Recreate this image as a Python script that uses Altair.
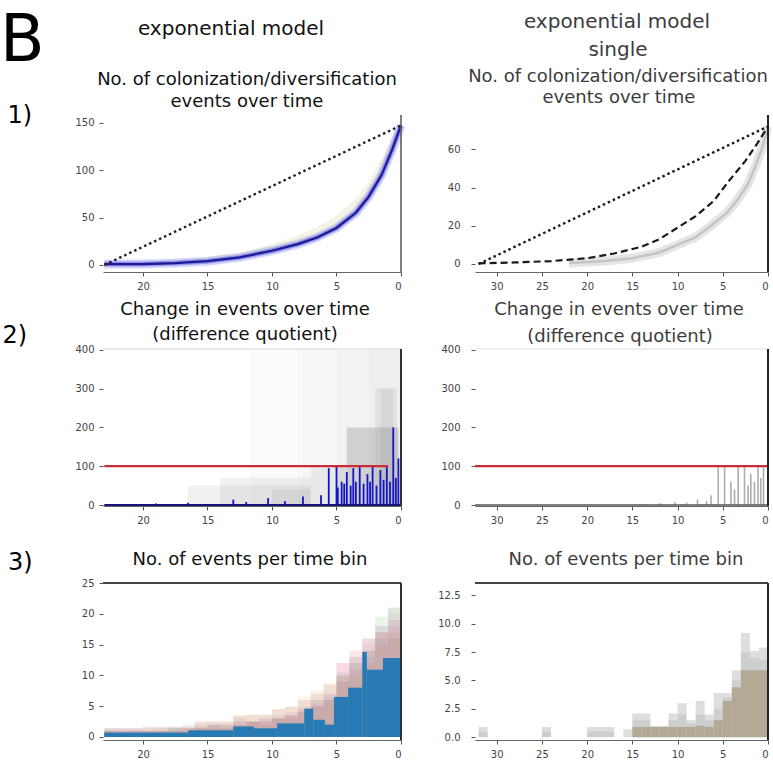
import altair as alt
import pandas as pd

FONT = "DejaVu Sans"

# ---------------- values ----------------
# Row 1, left: cumulative events over time (exponential model)
p1l_lin_time = [23, 0]
p1l_lin_events = [0, 147]
p1l_time = [23, 20, 17.5, 15, 12.5, 10, 8, 6.5, 5, 3.5, 2.5, 1.5, 0.7, 0]
p1l_events = [1, 1, 2, 4, 8, 15, 22, 29, 39, 55, 72, 95, 121, 147]
p1l_spread_low = [1, 1, 2, 4, 8, 15, 22, 29, 39, 55, 72, 95, 121, 147]
p1l_spread_high = [3, 3, 5, 8, 13, 22, 31, 40, 52, 70, 88, 112, 134, 149]

# Row 1, right: single run
p1r_lin_time = [32, 0]
p1r_lin_events = [0, 72]
p1r_exp_time = [32, 28, 24, 20, 17, 14, 12, 10, 8, 6, 4.4, 2.5, 1.2, 0]
p1r_exp_events = [0.3, 0.8, 1.5, 3, 5.5, 9, 13, 19, 25, 33, 43, 54, 63, 72]
p1r_obs_time = [22, 18, 15, 12, 10, 8, 6.3, 4.5, 3.3, 2.2, 1.4, 0.7, 0]
p1r_obs_events = [0.5, 1.5, 3, 6, 10, 14, 20, 27, 34, 42, 51, 60, 72]

# Row 2, left: difference quotient
p2l_spike_time = [19, 16.5, 13, 12, 10.3, 9, 7.6, 6.2, 5.6, 5.0, 4.9, 4.6, 4.4, 4.2, 3.9,
                  3.7, 3.5, 3.2, 2.9, 2.6, 2.4, 2.2, 1.9, 1.6, 1.35, 1.1, 0.85, 0.6, 0.4, 0.2]
p2l_spike_value = [4, 6, 14, 8, 18, 10, 22, 25, 95, 100, 45, 60, 55, 85, 50,
                   95, 60, 100, 55, 80, 60, 100, 50, 90, 65, 100, 60, 200, 70, 120]
p2l_faint_start = [11.7, 8, 5, 2.5]
p2l_faint_end = [0, 0, 0, 0]
p2l_faint_value = [400, 400, 400, 400]
p2l_light_start = [16.5, 14, 10, 7, 5, 2, 1.6]
p2l_light_end = [7, 7, 7, 4.2, 4.2, 0.3, 0.6]
p2l_light_value = [50, 70, 40, 100, 100, 300, 300]
p2l_mid_start = [4.2]
p2l_mid_end = [0.2]
p2l_mid_value = [200]
p2l_base_time = [23, 0]
p2l_threshold_time = [23, 1.0]
threshold = 100

# Row 2, right
p2r_spike_time = [14, 12, 10.3, 9, 7.8, 6.8, 6.3, 5.5, 4.8, 4.1, 3.7, 3.3, 2.6, 2.2, 1.9, 1.5, 1.1, 0.8, 0.5]
p2r_spike_value = [3, 5, 8, 6, 15, 10, 25, 100, 100, 60, 40, 100, 100, 50, 80, 60, 100, 70, 100]
p2r_threshold_time = [32.4, 0]

# Row 3, left: events per time bin
p3l_edges = [0, 1, 2, 3, 4, 5, 6, 7, 8, 9, 10, 11, 12, 13, 14, 15, 16, 17, 18, 19, 20, 21, 22, 23]
p3l_runs = ["run 2", "run 3", "run 4", "run 5", "run 6", "run 7", "run 8"]
p3l_run_counts = [
    [17, 15, 12, 10, 9, 8.7, 7.5, 6.5, 4.9, 4.5, 3.6, 3.6, 3.6, 2.5, 2.5, 2.5, 1.5, 1.2, 1.5, 1, 1, 1, 1],
    [21, 19.5, 14, 12, 10, 6, 5, 4, 3, 3, 2, 2.5, 2, 1.5, 2, 1.5, 1, 1.5, 1, 1, 1, 0.5, 1],
    [19, 17, 16, 14, 12, 6, 5, 4, 3.5, 3, 2.5, 2.5, 2, 1.5, 1.5, 1.5, 1.5, 1, 1, 1.5, 1, 1, 1],
    [18, 16, 13, 12, 9, 6.5, 6, 4.5, 3.5, 3.5, 3, 2.5, 2.5, 2, 2, 1.5, 1.5, 1.5, 1, 1, 1, 1, 1],
    [16, 17, 14, 11, 10, 8.5, 7, 6, 4.9, 4.5, 3.6, 3.6, 3.4, 2.5, 2.5, 2.5, 2, 1.7, 1.7, 1.7, 1.4, 1.4, 1.4],
    [20, 18, 15, 13, 12, 7, 5.5, 4.5, 3.5, 3, 2.5, 2.5, 2.5, 2, 2, 1.5, 1, 1, 1, 1, 1.4, 1.4, 1.4],
    [21, 18, 16, 13, 10.5, 7, 6, 5, 4, 3, 3, 2.5, 3, 2, 2, 2, 1.5, 1.5, 1.5, 1, 1.4, 1.4, 1.4],
]
p3l_run_colors = ["#ff7f0e", "#2ca02c", "#d62728", "#9467bd", "#8c564b", "#e377c2", "#7f7f7f"]
p3l_main_start = [23, 20, 16.5, 13, 11.4, 9.6, 7.5, 6.8, 5.9, 5.2, 4.1, 3.0, 2.65, 1.4]
p3l_main_end = [20, 16.5, 13, 11.4, 9.6, 7.5, 6.8, 5.9, 5.2, 4.1, 3.0, 2.65, 1.4, 0]
p3l_main_count = [0.7, 0.7, 1.1, 1.7, 1.4, 2.2, 4.6, 2.8, 2.0, 6.5, 8.0, 13.8, 10.9, 12.8]

# Row 3, right
p3r_edges = [0, 1, 2, 3, 4, 5, 6, 7, 8, 9, 10, 11, 12, 13, 14, 15, 16,
             17, 18, 19, 20, 21, 22, 23, 24, 25, 26, 27, 28, 29, 30, 31, 32]
p3r_main = [5.9, 5.9, 5.9, 4.4, 3.2, 1.5, 0.9, 1.0, 0.9, 0.9, 0.9, 0.9, 0.9, 0.9, 0.9, 0,
            0, 0, 0, 0, 0, 0, 0, 0, 0, 0, 0, 0, 0, 0, 0, 0]
p3r_high = [7.9, 7.6, 9.2, 5.9, 3.9, 3.9, 2.0, 3.2, 1.5, 3.0, 2.1, 1.0, 1.0, 2.1, 2.1, 0.7,
            0, 0.9, 0.9, 0.9, 0, 0, 0, 0, 0.9, 0, 0, 0, 0, 0, 0, 0.9]
p3r_mid = [6.8, 7.0, 7.5, 5.0, 3.5, 2.5, 1.5, 2.0, 1.2, 2.0, 1.5, 0.9, 0.9, 1.5, 1.5, 0,
           0, 0.5, 0.5, 0.5, 0, 0, 0, 0, 0.5, 0, 0, 0, 0, 0, 0, 0.5]

# axis tick values
left_time_ticks = [20, 15, 10, 5, 0]
right_time_ticks = [30, 25, 20, 15, 10, 5, 0]

# ---------------- layout ----------------
W1, W2, H = 298, 293, 157
ONE = pd.DataFrame({"k": [0]})
DARK = "#111111"
SOFT = "#3c3c3c"


def txt(s, x, y, size, color=DARK, align="center"):
    return alt.Chart(ONE).mark_text(
        text=s, font=FONT, fontSize=size, color=color, align=align, baseline="alphabetic"
    ).encode(x=alt.value(x), y=alt.value(y))


def vline(x, h, color, w):
    return alt.Chart(ONE).mark_rule(color=color, strokeWidth=w).encode(
        x=alt.value(x), y=alt.value(0), y2=alt.value(h))


def hline(y, wd, color, w):
    return alt.Chart(ONE).mark_rule(color=color, strokeWidth=w).encode(
        x=alt.value(0), x2=alt.value(wd), y=alt.value(y))


def xs(field, right, pad=5, size=10):
    dom = [0, 32.4] if right else [0, 23.1]
    ticks = right_time_ticks if right else left_time_ticks
    return alt.X(field, type="quantitative",
                 scale=alt.Scale(domain=dom, reverse=True, nice=False, zero=False),
                 axis=alt.Axis(values=ticks, title=None, format="d", labelPadding=pad,
                               labelFontSize=size))


def ys(field, dom, ticks, right, fmt="d"):
    return alt.Y(field, type="quantitative",
                 scale=alt.Scale(domain=dom, nice=False, zero=False),
                 axis=alt.Axis(values=ticks, title=None, format=fmt, domain=False,
                               labelPadding=11 if right else 5))


# ----- panel 1 left -----
d_lin = pd.DataFrame({"t": p1l_lin_time, "n": p1l_lin_events})
d_exp = pd.DataFrame({"t": p1l_time, "n": p1l_events, "lo": p1l_spread_low, "hi": p1l_spread_high})
y1l = [-7.4, 158]
yt1l = [0, 50, 100, 150]
p11 = alt.layer(
    alt.Chart(d_exp).mark_area(color="#e3e1bd", opacity=0.4).encode(
        x=xs("t", False), y=ys("lo", y1l, yt1l, False), y2="hi"),
    alt.Chart(d_exp).mark_line(color="#8a8af0", strokeWidth=9, opacity=0.35).encode(
        x=xs("t", False), y=ys("n", y1l, yt1l, False)),
    alt.Chart(d_exp).mark_line(color="#5050d8", strokeWidth=5, opacity=0.5).encode(
        x=xs("t", False), y=ys("n", y1l, yt1l, False)),
    alt.Chart(d_exp).mark_line(color="#1a1a9a", strokeWidth=2.2).encode(
        x=xs("t", False), y=ys("n", y1l, yt1l, False)),
    alt.Chart(d_lin).mark_line(color="#222222", strokeWidth=2.4, strokeDash=[2.5, 3]).encode(
        x=xs("t", False), y=ys("n", y1l, yt1l, False)),
    vline(W1, H, "#555555", 1.5),
    txt("B", -103, -54, 65, "#000000", "left"),
    txt("exponential model", 128, -80, 20),
    txt("No. of colonization/diversification", 144, -30, 18),
    txt("events over time", 144, -8, 18),
    txt("1)", -95.6, 8, 24, "#000000", "left"),
).properties(width=W1, height=H)

# ----- panel 1 right -----
d_lin_r = pd.DataFrame({"t": p1r_lin_time, "n": p1r_lin_events})
d_exp_r = pd.DataFrame({"t": p1r_exp_time, "n": p1r_exp_events})
d_obs_r = pd.DataFrame({"t": p1r_obs_time, "n": p1r_obs_events})
y1r = [-4.2, 78]
yt1r = [0, 20, 40, 60]
p12 = alt.layer(
    alt.Chart(d_obs_r).mark_line(color="#dadada", strokeWidth=9, opacity=0.7).encode(
        x=xs("t", True), y=ys("n", y1r, yt1r, True)),
    alt.Chart(d_obs_r).mark_line(color="#c4c4c4", strokeWidth=2.5).encode(
        x=xs("t", True), y=ys("n", y1r, yt1r, True)),
    alt.Chart(d_exp_r).mark_line(color="#1a1a1a", strokeWidth=2.2, strokeDash=[7, 4]).encode(
        x=xs("t", True), y=ys("n", y1r, yt1r, True)),
    alt.Chart(d_lin_r).mark_line(color="#1a1a1a", strokeWidth=2.4, strokeDash=[2.5, 3]).encode(
        x=xs("t", True), y=ys("n", y1r, yt1r, True)),
    vline(W2, H, "#222222", 2),
    txt("exponential model", 142, -87, 20, SOFT),
    txt("single", 143, -59, 20, SOFT),
    txt("No. of colonization/diversification", 143, -33, 18, SOFT),
    txt("events over time", 144, -12, 18, SOFT),
).properties(width=W2, height=H)

# ----- panel 2 left -----
y2 = [-2.5, 402]
yt2 = [0, 100, 200, 300, 400]
d_faint = pd.DataFrame({"t0": p2l_faint_start, "t1": p2l_faint_end, "q": p2l_faint_value})
d_light = pd.DataFrame({"t0": p2l_light_start, "t1": p2l_light_end, "q": p2l_light_value})
d_mid = pd.DataFrame({"t0": p2l_mid_start, "t1": p2l_mid_end, "q": p2l_mid_value})
d_spk = pd.DataFrame({"t": p2l_spike_time, "q": p2l_spike_value})
d_base = pd.DataFrame({"t": p2l_base_time, "q": [0, 0]})
d_thr = pd.DataFrame({"t": p2l_threshold_time, "q": [threshold, threshold]})
p21 = alt.layer(
    alt.Chart(d_faint).mark_rect(color="#808080", opacity=0.03).encode(
        x=xs("t0", False), x2="t1", y=ys("q", y2, yt2, False), y2=alt.datum(0)),
    alt.Chart(d_light).mark_rect(color="#808080", opacity=0.11).encode(
        x=xs("t0", False), x2="t1", y=ys("q", y2, yt2, False), y2=alt.datum(0)),
    alt.Chart(d_mid).mark_rect(color="#808080", opacity=0.3).encode(
        x=xs("t0", False), x2="t1", y=ys("q", y2, yt2, False), y2=alt.datum(0)),
    alt.Chart(d_spk).mark_rule(color="#1414c8", strokeWidth=1.8).encode(
        x=xs("t", False), y=ys("q", y2, yt2, False), y2=alt.datum(0)),
    alt.Chart(d_base).mark_line(color="#16167a", strokeWidth=2).encode(
        x=xs("t", False), y=ys("q", y2, yt2, False)),
    alt.Chart(d_thr).mark_line(color="#cc2a36", strokeWidth=2.2).encode(
        x=xs("t", False), y=ys("q", y2, yt2, False)),
    hline(0, W1, "#d4d4d4", 1),
    vline(W1, H, "#333333", 2),
    txt("Change in events over time", 142, -34, 18),
    txt("(difference quotient)", 142, -9, 18),
    txt("2)", -100.5, -6, 24, "#000000", "left"),
).properties(width=W1, height=H)

# ----- panel 2 right -----
d_spk_r = pd.DataFrame({"t": p2r_spike_time, "q": p2r_spike_value})
d_thr_r = pd.DataFrame({"t": p2r_threshold_time, "q": [threshold, threshold]})
d_base_r = pd.DataFrame({"t": p2r_threshold_time, "q": [0, 0]})
p22 = alt.layer(
    alt.Chart(d_spk_r).mark_rule(color="#8a8a8a", strokeWidth=1.6, opacity=0.7).encode(
        x=xs("t", True), y=ys("q", y2, yt2, True), y2=alt.datum(0)),
    alt.Chart(d_base_r).mark_line(color="#555555", strokeWidth=1.5).encode(
        x=xs("t", True), y=ys("q", y2, yt2, True)),
    alt.Chart(d_thr_r).mark_line(color="#cc2a36", strokeWidth=2.2).encode(
        x=xs("t", True), y=ys("q", y2, yt2, True)),
    hline(0, W2, "#dddddd", 1),
    vline(W2, H, "#222222", 2),
    txt("Change in events over time", 144, -34, 18, SOFT),
    txt("(difference quotient)", 145, -7, 18, SOFT),
).properties(width=W2, height=H)

# ----- panel 3 left -----
rows = []
for name, counts in zip(p3l_runs, p3l_run_counts):
    for i, c in enumerate(counts):
        rows.append({"run": name, "t0": p3l_edges[i], "t1": p3l_edges[i + 1], "n": c})
d_runs = pd.DataFrame(rows)
d_main = pd.DataFrame({"t0": p3l_main_start, "t1": p3l_main_end, "n": p3l_main_count})
y3l = [-0.5, 25]
yt3l = [0, 5, 10, 15, 20, 25]
p31 = alt.layer(
    alt.Chart(d_runs).mark_rect(opacity=0.11).encode(
        x=xs("t0", False), x2="t1", y=ys("n", y3l, yt3l, False), y2=alt.datum(0),
        color=alt.Color("run:N", scale=alt.Scale(domain=p3l_runs, range=p3l_run_colors), legend=None)),
    alt.Chart(d_main).mark_rect(color="#1f77b4", opacity=0.95).encode(
        x=xs("t0", False), x2="t1", y=ys("n", y3l, yt3l, False), y2=alt.datum(0)),
    hline(0, W1, "#444444", 2),
    vline(W1, H, "#333333", 2),
    txt("No. of events per time bin", 147, -18, 18),
    txt("3)", -95, -13, 24, "#000000", "left"),
).properties(width=W1, height=H)

# ----- panel 3 right -----
d_r3 = pd.DataFrame({"t0": p3r_edges[:-1], "t1": p3r_edges[1:], "main": p3r_main,
                     "high": p3r_high, "mid": p3r_mid})
y3r = [-0.25, 13.6]
yt3r = [0, 2.5, 5, 7.5, 10, 12.5]
p32 = alt.layer(
    alt.Chart(d_r3).mark_rect(color="#a0a0a0", opacity=0.35).encode(
        x=xs("t0", True), x2="t1", y=ys("high", y3r, yt3r, True, ".1f"), y2=alt.datum(0)),
    alt.Chart(d_r3).mark_rect(color="#a0a0a0", opacity=0.25).encode(
        x=xs("t0", True), x2="t1", y=ys("mid", y3r, yt3r, True, ".1f"), y2=alt.datum(0)),
    alt.Chart(d_r3).mark_rect(color="#b4a994").encode(
        x=xs("t0", True), x2="t1", y=ys("main", y3r, yt3r, True, ".1f"), y2=alt.datum(0)),
    hline(0, W2, "#444444", 2),
    vline(W2, H, "#222222", 2),
    txt("No. of events per time bin", 151, -18, 18, SOFT),
).properties(width=W2, height=H)

chart = alt.concat(
    p11, p12, p21, p22, p31, p32,
    columns=2, spacing={"row": 77, "column": 74}, bounds="flush",
).properties(
    padding={"left": 0, "top": 9, "right": -15, "bottom": 0},
).configure(
    font=FONT,
).configure_view(
    stroke=None,
).configure_axis(
    labelFont=FONT, labelFontSize=10, labelColor="#444444",
    tickColor="#555555", tickSize=4, grid=False,
    domainColor="#666666", domainWidth=1.2,
)

chart.save("out.html", embed_options={"renderer": "svg", "actions": False})
